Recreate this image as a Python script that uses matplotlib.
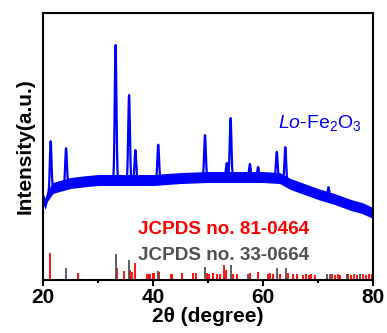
import numpy as np
import matplotlib
matplotlib.use("Agg")
import matplotlib.pyplot as plt

plt.rcParams['font.family'] = ['Liberation Sans', 'DejaVu Sans']
plt.rcParams['mathtext.fontset'] = 'custom'
plt.rcParams['mathtext.rm'] = 'Liberation Sans'
plt.rcParams['mathtext.it'] = 'Liberation Sans:italic'

# Baseline of the measured pattern (2theta, intensity a.u.)
base_x = [20, 20.4, 20.8, 21.8, 23, 25, 28, 30, 35, 40, 45, 50, 55, 60, 63, 65, 67, 70, 73, 76, 78, 80]
base_y = [82, 76, 84, 92, 94, 97, 99, 100, 100, 100, 102, 103, 103, 103, 102, 96, 92, 86, 81, 75, 72, 67]

# Diffraction peaks of the sample: position and height above baseline
peak_pos = [21.4, 24.2, 33.2, 35.65, 36.8, 40.95, 49.45, 53.4, 54.1, 57.6, 59.1, 62.5, 64.05, 71.9]
peak_h = [50, 36, 135, 85, 30, 35, 42, 14, 59, 13, 10, 26, 34, 10]

# Reference cards (stick patterns)
red_pos = [21.3, 26.4, 33.5, 34.7, 35.8, 36.1, 36.7, 39.0, 39.3, 39.5, 39.95, 40.2, 41.15,
           43.2, 43.4, 45.2, 47.3, 47.75, 49.8, 50.2, 50.9, 51.6, 52.2, 52.9, 53.3, 54.5,
           55.2, 57.6, 59.1, 60.9, 61.3, 61.8, 63.1, 64.5, 65.5, 66.2, 67.3, 67.8, 68.3,
           68.8, 69.5, 72.5, 73.0, 73.6, 74.0, 75.5, 76.0, 76.5, 77.0, 78.2, 78.8, 79.3, 79.8]
red_h = [27, 7, 12, 9, 10, 8, 17, 6, 6, 6, 7, 7, 8,
         6, 6, 7, 7, 7, 7, 6, 7, 6, 6, 15, 10, 6,
         6, 7, 8, 6, 7, 6, 6, 7, 6, 6, 5, 6, 5,
         6, 5, 6, 5, 6, 5, 6, 5, 6, 5, 6, 5, 6, 6]
gray_pos = [24.2, 33.3, 35.6, 40.85, 49.5, 54.1, 57.3, 62.5, 64.2, 71.6, 72.2, 75.2, 77.6]
gray_h = [12, 26, 20, 9, 13, 15, 6, 12, 12, 6, 6, 6, 6]

x = np.linspace(20, 80, 3000)
base = np.interp(x, base_x, base_y)
curve = base.copy()
for p, h in zip(peak_pos, peak_h):
    curve += h * np.exp(-0.5 * ((x - p) / 0.15) ** 2)

fig = plt.figure(figsize=(3.87, 3.33), dpi=100)
ax = fig.add_axes([0.111, 0.159, 0.853, 0.802])

# noisy band around the baseline
ax.fill_between(x, base - 5.5, base + 5.5, color='#0000FF', lw=0)
ax.plot(x, curve, color='#0000FF', lw=1.6)

ax.vlines(red_pos, 0, red_h, color='#FF0000', lw=1.3)
ax.vlines(gray_pos, 0, gray_h, color='#505050', lw=1.3)

ax.text(37.3, 46, 'JCPDS no. 81-0464', color='#FF0000', fontsize=13.6,
        fontweight='bold', va='baseline')
ax.text(37.3, 20, 'JCPDS no. 33-0664', color='#505050', fontsize=13.6,
        fontweight='bold', va='baseline')
ax.text(62.7, 152, r'$\mathit{Lo}$-Fe$_2$O$_3$', color='#0000FF', fontsize=14,
        va='baseline')

ax.set_xlim(20, 80)
ax.set_ylim(0, 267)
ax.set_xticks([20, 40, 60, 80])
ax.set_xticks([30, 50, 70], minor=True)
ax.set_yticks([])
ax.tick_params(axis='x', which='major', direction='out', length=4, width=1.5,
               labelsize=15, pad=2)
ax.tick_params(axis='x', which='minor', direction='out', length=2.5, width=1.5)
for lab in ax.get_xticklabels():
    lab.set_fontweight('bold')
for s in ax.spines.values():
    s.set_linewidth(1.5)

ax.set_xlabel('2θ (degree)', fontsize=15, fontweight='bold', labelpad=0)
ax.set_ylabel('Intensity(a.u.)', fontsize=15, fontweight='bold', labelpad=6)

fig.savefig('out.png', dpi=100)
